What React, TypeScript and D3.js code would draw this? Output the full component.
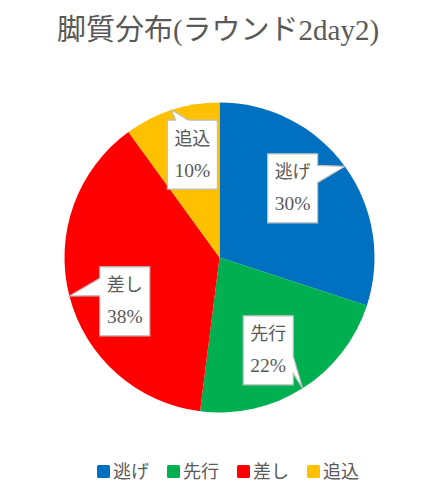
import * as d3 from "d3";

const categories = ["逃げ", "先行", "差し", "追込"];
const shares = [30, 22, 38, 10];
const colors = ["#0070C0", "#00B050", "#FF0000", "#FFC000"];
const title = "脚質分布(ラウンド2day2)";

// label boxes were dragged around in the original, nudge from the centroid
const labelNudge: [number, number][] = [
  [-11, -8],
  [-7, 5],
  [6, 18],
  [5, -4],
];

const W = 442;
const H = 491;
const cx = 219.5;
const cy = 257.5;
const R = 155;
const boxW = 50;
const boxH = 69;
const textColor = "#595959";
const font = "'Liberation Serif', 'Noto Sans CJK JP', serif";

// same geometry as the office wedgeRectCallout shape
function callout(x: number, y: number, w: number, h: number, tx: number, ty: number) {
  const dx = tx - (x + w / 2);
  const dy = ty - (y + h / 2);
  const dz = Math.abs(dy) - Math.abs((dx * h) / w);
  const x1 = x + (w * (dx > 0 ? 7 : 2)) / 12;
  const x2 = x + (w * (dx > 0 ? 10 : 5)) / 12;
  const y1 = y + (h * (dy > 0 ? 7 : 2)) / 12;
  const y2 = y + (h * (dy > 0 ? 10 : 5)) / 12;
  const p = d3.path();
  p.moveTo(x, y);
  if (dz > 0 && dy < 0) {
    p.lineTo(x1, y);
    p.lineTo(tx, ty);
    p.lineTo(x2, y);
  }
  p.lineTo(x + w, y);
  if (dz <= 0 && dx > 0) {
    p.lineTo(x + w, y1);
    p.lineTo(tx, ty);
    p.lineTo(x + w, y2);
  }
  p.lineTo(x + w, y + h);
  if (dz > 0 && dy > 0) {
    p.lineTo(x2, y + h);
    p.lineTo(tx, ty);
    p.lineTo(x1, y + h);
  }
  p.lineTo(x, y + h);
  if (dz <= 0 && dx < 0) {
    p.lineTo(x, y2);
    p.lineTo(tx, ty);
    p.lineTo(x, y1);
  }
  p.closePath();
  return p.toString();
}

export default function App() {
  const pie = d3.pie<number>().sort(null).startAngle(0).endAngle(2 * Math.PI);
  const arcs = pie(shares);
  const arc = d3.arc<d3.PieArcDatum<number>>().innerRadius(0).outerRadius(R);
  const total = d3.sum(shares);

  const legendX = d3.scalePoint<string>().domain(categories).range([97, 307]);

  return (
    <svg
      width={W}
      height={H}
      style={{ position: "absolute", left: 0, top: 0, background: "#fff" }}
      fontFamily={font}
    >
      <text x={218} y={40} textAnchor="middle" fontSize={29} fill={textColor}>
        {title}
      </text>
      <g transform={`translate(${cx},${cy})`}>
        {arcs.map((a, i) => (
          <path key={i} d={arc(a) ?? ""} fill={colors[i]} />
        ))}
        {arcs.map((a, i) => {
          const mid = (a.startAngle + a.endAngle) / 2;
          const bx = 104 * Math.sin(mid) + labelNudge[i][0];
          const by = -104 * Math.cos(mid) + labelNudge[i][1];
          const tx = R * Math.sin(mid);
          const ty = -R * Math.cos(mid);
          const pct = d3.format(".0%")(a.value / total);
          return (
            <g key={"l" + i}>
              <path
                d={callout(bx - boxW / 2, by - boxH / 2, boxW, boxH, tx, ty)}
                fill="#fff"
                stroke="#BFBFBF"
                strokeWidth={1.2}
              />
              <text x={bx} y={by - 10} textAnchor="middle" fontSize={18} fill={textColor}>
                {categories[i]}
              </text>
              <text x={bx} y={by + 22} textAnchor="middle" fontSize={19.5} fill={textColor}>
                {pct}
              </text>
            </g>
          );
        })}
      </g>
      <g>
        {categories.map((c, i) => (
          <g key={c} transform={`translate(${legendX(c)},465)`}>
            <rect width={13} height={13} rx={1.5} fill={colors[i]} />
            <text x={16} y={12.5} fontSize={18} fill={textColor}>
              {c}
            </text>
          </g>
        ))}
      </g>
    </svg>
  );
}
